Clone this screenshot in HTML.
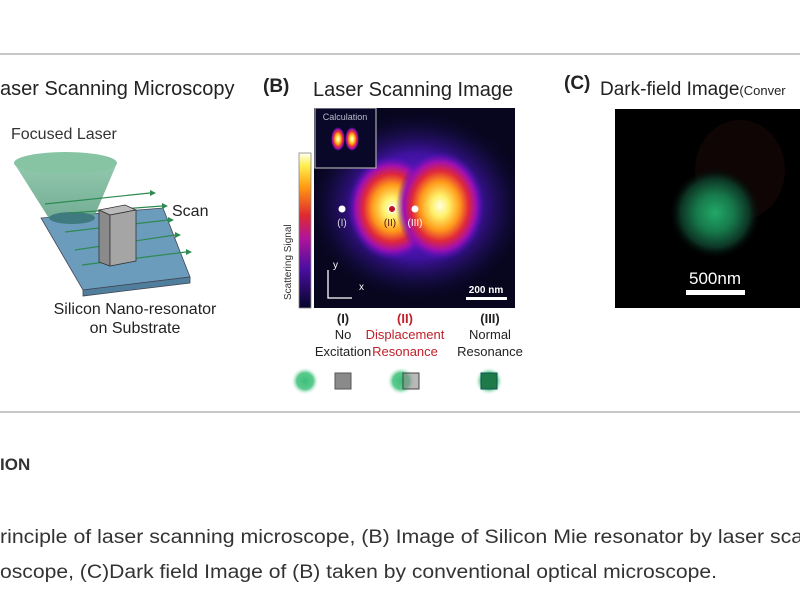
<!DOCTYPE html>
<html><head><style>html,body{margin:0;padding:0;background:#fff;}svg{display:block}</style></head>
<body>
<svg width="800" height="600" viewBox="0 0 800 600" xmlns="http://www.w3.org/2000/svg" font-family="Liberation Sans, Arial, sans-serif">
<defs>
<radialGradient id="blob" cx="50%" cy="50%" r="50%">
<stop offset="0" stop-color="#ffffe0"/><stop offset="0.2" stop-color="#fff06a"/><stop offset="0.45" stop-color="#ff9a1a"/><stop offset="0.65" stop-color="#e0283a"/><stop offset="0.82" stop-color="#a010b0"/><stop offset="1" stop-color="#5010c0" stop-opacity="0"/>
</radialGradient>
<radialGradient id="halo" cx="50%" cy="50%" r="50%">
<stop offset="0" stop-color="#7a20e0"/><stop offset="0.55" stop-color="#4a14b8" stop-opacity="0.85"/><stop offset="0.8" stop-color="#201060" stop-opacity="0.5"/><stop offset="1" stop-color="#0a0630" stop-opacity="0"/>
</radialGradient>
<radialGradient id="grn" cx="50%" cy="50%" r="50%">
<stop offset="0" stop-color="#22a868"/><stop offset="0.4" stop-color="#177a4c"/><stop offset="0.75" stop-color="#0c3424"/><stop offset="1" stop-color="#000" stop-opacity="0"/>
</radialGradient>
<radialGradient id="gdot" cx="50%" cy="50%" r="50%">
<stop offset="0" stop-color="#3cbf7a"/><stop offset="0.6" stop-color="#5ccb8f"/><stop offset="1" stop-color="#fff" stop-opacity="0"/>
</radialGradient>
<linearGradient id="cbar" x1="0" y1="1" x2="0" y2="0">
<stop offset="0" stop-color="#05052a"/><stop offset="0.25" stop-color="#4a0ea0"/><stop offset="0.45" stop-color="#b0149a"/><stop offset="0.6" stop-color="#e02a30"/><stop offset="0.78" stop-color="#ff9a10"/><stop offset="0.92" stop-color="#fff050"/><stop offset="1" stop-color="#fffff0"/>
</linearGradient>
<linearGradient id="cone" x1="0" y1="0" x2="0" y2="1">
<stop offset="0" stop-color="#7fbfa0"/><stop offset="1" stop-color="#5a9e80"/>
</linearGradient>
</defs>
<rect width="800" height="600" fill="#fff"/>
<line x1="0" y1="54" x2="800" y2="54" stroke="#c8c8c8" stroke-width="2"/>
<line x1="0" y1="412" x2="800" y2="412" stroke="#c8c8c8" stroke-width="2"/>

<!-- Panel A -->
<text x="0" y="95" font-size="20" fill="#222">aser Scanning Microscopy</text>
<text x="11" y="139" font-size="16" fill="#333">Focused Laser</text>
<polygon points="41,218 163,208 190,277 83,290" fill="#6b9cbc" stroke="#445" stroke-width="0.8"/>
<polygon points="83,290 190,277 190,283 83,296" fill="#4f7f9c" stroke="#445" stroke-width="0.8"/>
<polygon points="14,163 117,163 95,215 50,220" fill="url(#cone)" opacity="0.85"/>
<ellipse cx="65.5" cy="163" rx="51.5" ry="11" fill="#86c4a4"/>
<ellipse cx="72" cy="218" rx="23" ry="6" fill="#3e7a80"/>
<g stroke="#2e8a50" stroke-width="1.2">
<line x1="45" y1="204" x2="150" y2="193"/><line x1="70" y1="213" x2="162" y2="206"/><line x1="65" y1="232" x2="168" y2="220"/><line x1="75" y1="250" x2="175" y2="235"/><line x1="82" y1="265" x2="186" y2="252"/>
</g>
<g fill="#2e8a50"><polygon points="150,190 156,193 150,196"/><polygon points="162,203 168,206 162,209"/><polygon points="168,217 174,220 168,223"/><polygon points="175,232 181,235 175,238"/><polygon points="186,249 192,252 186,255"/></g>
<polygon points="99,210 125,205 136,210 110,215" fill="#bbb" stroke="#333" stroke-width="0.8"/>
<polygon points="99,210 110,215 110,266 99,262" fill="#8a8a8a" stroke="#333" stroke-width="0.8"/>
<polygon points="110,215 136,210 136,261 110,266" fill="#a5a5a5" stroke="#333" stroke-width="0.8"/>
<text x="172" y="216" font-size="16" fill="#222">Scan</text>
<text x="135" y="314" font-size="16" fill="#222" text-anchor="middle">Silicon Nano-resonator</text>
<text x="135" y="333" font-size="16" fill="#222" text-anchor="middle">on Substrate</text>

<!-- Panel B -->
<text x="263" y="92" font-size="19" font-weight="bold" fill="#222">(B)</text>
<text x="313" y="96" font-size="20" fill="#222">Laser Scanning Image</text>
<rect x="314" y="108" width="201" height="200" fill="#07061e"/>
<svg x="314" y="108" width="201" height="200">
<ellipse cx="103" cy="98" rx="110" ry="95" fill="url(#halo)"/>
<ellipse cx="78" cy="100" rx="44" ry="52" fill="url(#blob)"/>
<ellipse cx="126" cy="98" rx="44" ry="54" fill="url(#blob)"/>
<rect x="1" y="0" width="61" height="60" fill="#0a0828" stroke="#aaa" stroke-width="1.2"/>
<ellipse cx="24" cy="31" rx="7" ry="12" fill="url(#blob)"/>
<ellipse cx="38" cy="31" rx="7" ry="12" fill="url(#blob)"/>
<text x="31" y="12" font-size="9" fill="#bbc" text-anchor="middle">Calculation</text>
</svg>
<rect x="299" y="153" width="12" height="155" fill="url(#cbar)" stroke="#888" stroke-width="0.8"/>
<text transform="translate(291,300) rotate(-90)" font-size="10" fill="#333">Scattering Signal</text>
<circle cx="342" cy="209" r="3.5" fill="#fff"/>
<circle cx="392" cy="209" r="3.5" fill="#c01020" stroke="#fff" stroke-width="1"/>
<circle cx="415" cy="209" r="3.5" fill="#fff"/>
<g font-size="10" text-anchor="middle"><text x="342" y="226" fill="#ddd">(I)</text><text x="390" y="226" fill="#511">(II)</text><text x="415" y="226" fill="#fff">(III)</text></g>
<g stroke="#fff" stroke-width="1.3" fill="none"><polyline points="328,270 328,298 352,298"/></g>
<text x="333" y="268" font-size="10" fill="#fff">y</text><text x="359" y="290" font-size="10" fill="#fff">x</text>
<text x="486" y="293" font-size="10" fill="#fff" text-anchor="middle" font-weight="bold">200 nm</text>
<rect x="466" y="297" width="41" height="3" fill="#fff"/>
<g font-size="13" text-anchor="middle" fill="#222">
<text x="343" y="323" font-weight="bold">(I)</text><text x="343" y="339">No</text><text x="343" y="356">Excitation</text>
<text x="405" y="323" font-weight="bold" fill="#c0202a">(II)</text><text x="405" y="339" fill="#c0202a">Displacement</text><text x="405" y="356" fill="#c0202a">Resonance</text>
<text x="490" y="323" font-weight="bold">(III)</text><text x="490" y="339">Normal</text><text x="490" y="356">Resonance</text>
</g>
<circle cx="305" cy="381" r="14" fill="url(#gdot)"/>
<rect x="335" y="373" width="16" height="16" fill="#8a8a8a" stroke="#555"/>
<circle cx="401" cy="381" r="14" fill="url(#gdot)"/>
<rect x="403" y="373" width="16" height="16" fill="#8a8a8a" fill-opacity="0.6" stroke="#444"/>
<circle cx="489" cy="381" r="14" fill="url(#gdot)"/>
<rect x="481" y="373" width="16" height="16" fill="#1e7a48" stroke="#155"/>

<!-- Panel C -->
<text x="564" y="89" font-size="19" font-weight="bold" fill="#222">(C)</text>
<text x="600" y="95" font-size="19" fill="#222">Dark-field Image<tspan font-size="13">(Conver</tspan></text>
<rect x="615" y="109" width="185" height="199" fill="#000"/>
<ellipse cx="740" cy="170" rx="45" ry="50" fill="#140606" opacity="0.8"/>
<ellipse cx="715" cy="213" rx="46" ry="46" fill="url(#grn)"/>
<text x="715" y="284" font-size="17" fill="#fff" text-anchor="middle">500nm</text>
<rect x="686" y="290" width="59" height="5" fill="#fff"/>

<!-- Caption -->
<text x="0" y="470" font-size="17" font-weight="bold" fill="#333">ION</text>
<text x="0" y="543" font-size="19" fill="#333" textLength="815" lengthAdjust="spacingAndGlyphs">rinciple of laser scanning microscope, (B) Image of Silicon Mie resonator by laser scan</text>
<text x="0" y="578" font-size="19" fill="#333" textLength="717" lengthAdjust="spacingAndGlyphs">oscope, (C)Dark field Image of (B) taken by conventional optical microscope.</text>
</svg>
</body></html>
